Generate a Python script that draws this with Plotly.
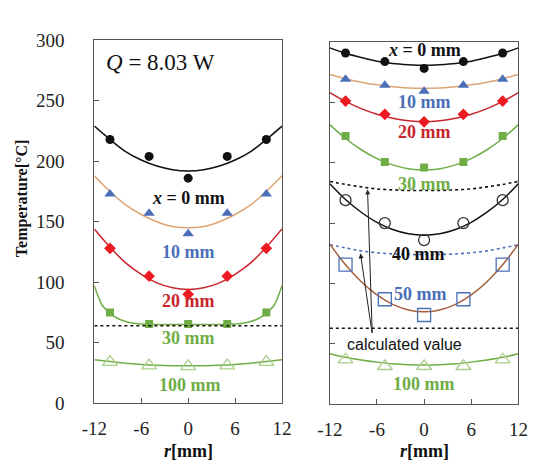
import plotly.graph_objects as go

# ---------------- data ----------------
r_pts = [-10, -5, 0, 5, 10]
r_curve = [-12, -10, -8, -6, -4, -2, 0, 2, 4, 6, 8, 10, 12]

# Left panel, Q = 8.03 W
L_x0_pts = [218, 204, 186, 204, 218]
L_x0_fit = [229, 218, 208, 201, 196, 193, 192, 193, 196, 201, 208, 218, 229]
L_10_pts = [173, 157, 140, 157, 173]
L_10_fit = [188, 175, 164, 156, 150, 146, 145, 146, 150, 156, 164, 175, 188]
L_20_pts = [128, 105, 90, 105, 128]
L_20_fit = [144, 129, 116, 106.5, 99.5, 95.4, 94, 95.4, 99.5, 106.5, 116, 129, 144]
L_30_pts = [75, 65.5, 65.5, 65.5, 75]
L_30_r = [-12, -11.5, -11, -10, -9, -8, -7, -6, -3, 0, 3, 6, 7, 8, 9, 10, 11, 11.5, 12]
L_30_fit = [97, 88, 81, 74.5, 70, 67.5, 66, 65.5, 65, 65, 65, 65.5, 66, 67.5, 70, 74.5, 81, 88, 97]
L_100_pts = [34, 31, 30.5, 31, 34]
L_100_fit = [36, 34.5, 33, 32, 31.3, 31, 31, 31, 31.3, 32, 33, 34.5, 36]
L_calc_r = [-12, 12]
L_calc = [64, 64]

# Right panel, Q = 9.03 W
R_x0_pts = [290.7, 283.6, 278, 283.6, 290.7]
R_x0_fit = [295, 290.5, 287, 284, 282, 281, 280.5, 281, 282, 284, 287, 290.5, 295]
R_10_pts = [269, 264, 259, 264, 269]
R_10_fit = [273, 269.5, 266.6, 264.4, 262.8, 261.8, 261.5, 261.8, 262.8, 264.4, 266.6, 269.5, 273]
R_20_pts = [251, 240, 233.8, 240, 251]
R_20_fit = [258, 250.7, 244.7, 240, 236.7, 234.7, 234, 234.7, 236.7, 240, 244.7, 250.7, 258]
R_30_pts = [222, 200.6, 196, 200.6, 222]
R_30_fit = [231.5, 220, 210.7, 203.4, 198.2, 195, 194, 195, 198.2, 203.4, 210.7, 220, 231.5]
R_40_calc = [184.5, 182, 180, 178.3, 177.5, 177, 177, 177, 177.5, 178.3, 180, 182, 184.5]
R_40_pts = [169, 150, 136, 150, 169]
R_40_fit = [182.5, 169.5, 159, 150.6, 144.7, 141.2, 140, 141.2, 144.7, 150.6, 159, 169.5, 182.5]
R_50_calc = [132, 129.5, 127, 125.5, 124.5, 124, 124, 124, 124.5, 125.5, 127, 129.5, 132]
R_50_pts = [115.6, 87, 74, 87, 115.6]
R_50_fit = [132.6, 115.5, 101.5, 90.6, 82.8, 78.2, 76.6, 78.2, 82.8, 90.6, 101.5, 115.5, 132.6]
R_100_calc_r = [-12, 12]
R_100_calc = [63, 63]
R_100_pts = [37, 31.6, 31.6, 31.6, 37]
R_100_fit = [42, 39, 36.8, 35, 33.6, 32.9, 32.6, 32.9, 33.6, 35, 36.8, 39, 42]

x_ticks = [-12, -6, 0, 6, 12]
x_tick_labels = ["-12", "-6", "0", "6", "12"]
y_ticks = [0, 50, 100, 150, 200, 250, 300]
y_tick_labels = ["0", "50", "100", "150", "200", "250", "300"]

# ---------------- styles ----------------
BLACK = "#111111"
ORANGE = "#DDA574"
BLUE = "#4A6FB8"
RED_L = "#C8252D"
RED_M = "#EE1A22"
GREEN = "#70AD47"
LGREEN = "#A9CF8C"
BROWN = "#A5603A"
SERIF = "Liberation Serif, Times New Roman, serif"

fig = go.Figure()


def line(x, y, color, xa, ya, width=1.5, dash="solid", shape="spline"):
    fig.add_trace(go.Scatter(x=x, y=y, mode="lines", xaxis=xa, yaxis=ya,
                             line=dict(color=color, width=width, dash=dash, shape=shape,
                                       smoothing=1.0),
                             hoverinfo="skip", showlegend=False))


def pts(y, symbol, color, size, xa, ya, open_=False):
    if open_:
        marker = dict(symbol=symbol + "-open", color=color, size=size, line=dict(color=color, width=1.3))
    else:
        marker = dict(symbol=symbol, color=color, size=size, line=dict(width=0))
    fig.add_trace(go.Scatter(x=r_pts, y=y, mode="markers", xaxis=xa, yaxis=ya,
                             marker=marker, showlegend=False))


# left panel
line(r_curve, L_x0_fit, BLACK, "x", "y")
pts(L_x0_pts, "circle", BLACK, 9, "x", "y")
line(r_curve, L_10_fit, ORANGE, "x", "y")
pts(L_10_pts, "triangle-up", BLUE, 10, "x", "y")
line(r_curve, L_20_fit, RED_L, "x", "y")
pts(L_20_pts, "diamond", RED_M, 9, "x", "y")
line(L_30_r, L_30_fit, GREEN, "x", "y")
pts(L_30_pts, "square", GREEN, 8, "x", "y")
line(L_calc_r, L_calc, BLACK, "x", "y", width=1.3, dash="dot", shape="linear")
line(r_curve, L_100_fit, GREEN, "x", "y")
pts(L_100_pts, "triangle-up", LGREEN, 13, "x", "y", open_=True)

# right panel
line(r_curve, R_x0_fit, BLACK, "x2", "y2")
pts(R_x0_pts, "circle", BLACK, 9, "x2", "y2")
line(r_curve, R_10_fit, ORANGE, "x2", "y2")
pts(R_10_pts, "triangle-up", BLUE, 10, "x2", "y2")
line(r_curve, R_20_fit, RED_L, "x2", "y2")
pts(R_20_pts, "diamond", RED_M, 9, "x2", "y2")
line(r_curve, R_30_fit, GREEN, "x2", "y2")
pts(R_30_pts, "square", GREEN, 8, "x2", "y2")
line(r_curve, R_40_calc, BLACK, "x2", "y2", width=1.6, dash="dot")
line(r_curve, R_40_fit, BLACK, "x2", "y2")
pts(R_40_pts, "circle", "#333333", 11, "x2", "y2", open_=True)
line(r_curve, R_50_calc, BLUE, "x2", "y2", width=1.6, dash="dot")
line(r_curve, R_50_fit, BROWN, "x2", "y2")
pts(R_50_pts, "square", BLUE, 13, "x2", "y2", open_=True)
line(R_100_calc_r, R_100_calc, BLACK, "x2", "y2", width=1.3, dash="dot", shape="linear")
line(r_curve, R_100_fit, GREEN, "x2", "y2")
pts(R_100_pts, "triangle-up", LGREEN, 13, "x2", "y2", open_=True)

# ---------------- axes ----------------
axis_common = dict(showgrid=False, zeroline=False, showline=True, linecolor="#555555",
                   linewidth=1, mirror=True, ticks="inside", ticklen=5, tickcolor="#555555",
                   tickfont=dict(family=SERIF, size=19, color="#222222"))

fig.update_layout(
    width=537, height=467, margin=dict(l=0, r=0, t=0, b=0),
    paper_bgcolor="white", plot_bgcolor="white", showlegend=False,
    xaxis=dict(domain=[85 / 537, 281 / 537], range=[-12, 12], tickvals=x_ticks,
               ticktext=x_tick_labels, ticklabelstandoff=8, anchor="y", **axis_common),
    yaxis=dict(domain=[55.3 / 467, 435.3 / 467], range=[0, 300], tickvals=y_ticks,
               ticktext=y_tick_labels, anchor="x", ticklabelstandoff=25, **axis_common),
    xaxis2=dict(domain=[331 / 537, 528 / 537], range=[-12, 12], tickvals=x_ticks,
                ticktext=x_tick_labels, ticklabelstandoff=8, anchor="y2", **axis_common),
    yaxis2=dict(domain=[54 / 467, 433.7 / 467], range=[0, 300], tickvals=y_ticks,
                showticklabels=False, anchor="x2", **axis_common),
)

ann = []


def label(x, y, text, color, xa="x", ya="y", size=18, family=SERIF):
    ann.append(dict(x=x, y=y, xref=xa, yref=ya, text=text, showarrow=False,
                    font=dict(family=family, size=size, color=color)))


# left labels
label(-3.5, 281.5, "<i>Q</i> = 8.03 W", "#111111", size=23)
label(0, 169.6, "<b><i>x</i> = 0 mm</b>", BLACK)
label(0, 125.2, "<b>10 mm</b>", BLUE)
label(0, 84.2, "<b>20 mm</b>", RED_L)
label(0, 54.2, "<b>30 mm</b>", GREEN)
label(0.2, 14.8, "<b>100 mm</b>", GREEN)

# right labels
label(-3.9, 309.6, "<i>Q</i> = 9.03 W", "#111111", "x2", "y2", size=23)
label(0, 293, "<b><i>x</i> = 0 mm</b>", BLACK, "x2", "y2")
label(0, 250, "<b>10 mm</b>", BLUE, "x2", "y2")
label(0, 225.6, "<b>20 mm</b>", RED_L, "x2", "y2")
label(0, 182, "<b>30 mm</b>", GREEN, "x2", "y2")
label(-0.7, 124.3, "<b>40 mm</b>", BLACK, "x2", "y2")
label(-0.4, 91, "<b>50 mm</b>", BLUE, "x2", "y2")
label(-2.5, 49.3, "calculated value", "#111111", "x2", "y2", size=16,
      family="Liberation Sans, Arial, sans-serif")
label(0, 16.6, "<b>100 mm</b>", GREEN, "x2", "y2")

# arrows
for hx, hy in [(-7.2, 177.9), (-8.1, 125.0)]:
    ann.append(dict(x=hx, y=hy, xref="x2", yref="y2", ax=-6.6, ay=58, axref="x2", ayref="y2",
                    text="", showarrow=True, arrowhead=2, arrowsize=1, arrowwidth=1,
                    arrowcolor="#222222"))

# axis titles
ann.append(dict(x=22 / 537, y=(467 - 198) / 467, xref="paper", yref="paper",
                xanchor="center", yanchor="middle", xshift=-12,
                text="<b>Temperature[°C]</b>", textangle=-90, showarrow=False,
                font=dict(family=SERIF, size=16, color="#111111")))
for cx in [(85 + 281) / 2 / 537, (331 + 528) / 2 / 537]:
    ann.append(dict(x=cx, y=0, xref="paper", yref="paper",
                    xanchor="center", yanchor="bottom", yshift=-7,
                    text="<b><i>r</i>[mm]</b>", showarrow=False,
                    font=dict(family=SERIF, size=18, color="#111111")))

fig.update_layout(annotations=ann)
fig.write_html("out.html")
